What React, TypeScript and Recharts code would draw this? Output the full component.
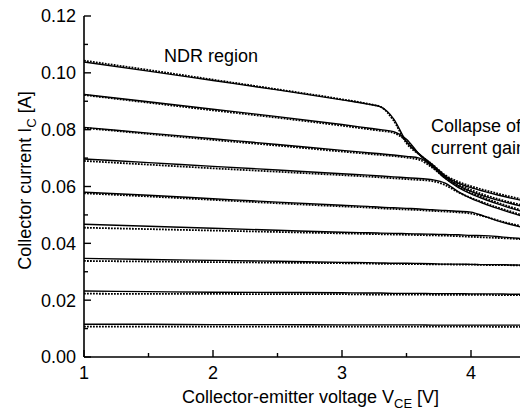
import React from 'react';
import { LineChart, Line, XAxis, YAxis } from 'recharts';

const FONT = '"Liberation Sans", Arial, Helvetica, sans-serif';

// Collector-emitter voltage grid [V]
const voltage = [1, 1.5, 2, 2.5, 3, 3.2, 3.3, 3.4, 3.5, 3.6, 3.7, 3.8, 3.9, 4.0, 4.1, 4.2, 4.3, 4.4, 4.5, 4.6];

// Measured (solid) collector current [A]
const meas1 = [0.1038, 0.1006, 0.0973, 0.094, 0.0905, 0.089, 0.088, 0.0838, 0.0757, 0.0714, 0.0676, 0.0636, 0.0612, 0.0596, 0.0583, 0.0571, 0.056, 0.0551, 0.0542, 0.0534];
const meas2 = [0.0924, 0.0898, 0.0872, 0.0846, 0.0818, 0.0806, 0.08, 0.0793, 0.0766, 0.0713, 0.0673, 0.0633, 0.0604, 0.0583, 0.0566, 0.0553, 0.0541, 0.053, 0.0521, 0.0513];
const meas3 = [0.0808, 0.0788, 0.0768, 0.0748, 0.0727, 0.0719, 0.0715, 0.0711, 0.0706, 0.07, 0.067, 0.0628, 0.0597, 0.0574, 0.0556, 0.054, 0.0525, 0.0512, 0.0501, 0.0492];
const meas4 = [0.0697, 0.0684, 0.0671, 0.0658, 0.0645, 0.064, 0.0637, 0.0634, 0.0631, 0.0628, 0.0624, 0.0612, 0.0582, 0.0558, 0.054, 0.0524, 0.0509, 0.0495, 0.0483, 0.0473];
const meas5 = [0.058, 0.0569, 0.0557, 0.0545, 0.0534, 0.053, 0.0527, 0.0525, 0.0523, 0.0521, 0.0518, 0.0516, 0.0513, 0.051, 0.0496, 0.048, 0.0467, 0.0456, 0.0447, 0.044];
const meas6 = [0.0467, 0.046, 0.0453, 0.0446, 0.0439, 0.0437, 0.0436, 0.0435, 0.0434, 0.0433, 0.0432, 0.0431, 0.043, 0.0428, 0.0427, 0.0424, 0.042, 0.0417, 0.0414, 0.0411];
const meas7 = [0.0347, 0.0343, 0.034, 0.0337, 0.0333, 0.0332, 0.0331, 0.033, 0.033, 0.0329, 0.0328, 0.0327, 0.0327, 0.0326, 0.0325, 0.0325, 0.0324, 0.0323, 0.0322, 0.0322];
const meas8 = [0.0232, 0.023, 0.0228, 0.0227, 0.0226, 0.0225, 0.0225, 0.0224, 0.0224, 0.0224, 0.0223, 0.0223, 0.0223, 0.0222, 0.0222, 0.0222, 0.0221, 0.0221, 0.0221, 0.022];
const meas9 = [0.0115, 0.0115, 0.0114, 0.0114, 0.0113, 0.0113, 0.0113, 0.0113, 0.0113, 0.0113, 0.0112, 0.0112, 0.0112, 0.0112, 0.0112, 0.0112, 0.0112, 0.0112, 0.0111, 0.0111];

// Simulated (dotted) collector current [A]
const sim1 = [0.1043, 0.101, 0.0976, 0.0942, 0.0907, 0.0891, 0.088, 0.0832, 0.0752, 0.0712, 0.0678, 0.064, 0.0617, 0.0601, 0.0588, 0.0576, 0.0565, 0.0555, 0.0546, 0.0538];
const sim2 = [0.0922, 0.0895, 0.0868, 0.0842, 0.0814, 0.0802, 0.0796, 0.0789, 0.076, 0.0712, 0.0676, 0.0637, 0.0609, 0.0588, 0.0571, 0.0557, 0.0545, 0.0534, 0.0525, 0.0517];
const sim3 = [0.0806, 0.0785, 0.0764, 0.0744, 0.0723, 0.0715, 0.0711, 0.0707, 0.0702, 0.0694, 0.0666, 0.063, 0.0601, 0.0578, 0.056, 0.0544, 0.0529, 0.0516, 0.0505, 0.0496];
const sim4 = [0.069, 0.0677, 0.0664, 0.0652, 0.064, 0.0635, 0.0632, 0.0629, 0.0626, 0.0623, 0.0619, 0.0605, 0.058, 0.056, 0.0543, 0.0527, 0.0513, 0.0499, 0.0487, 0.0477];
const sim5 = [0.0576, 0.0565, 0.0553, 0.0541, 0.053, 0.0526, 0.0523, 0.0521, 0.0519, 0.0517, 0.0514, 0.0512, 0.0509, 0.0505, 0.0495, 0.0482, 0.047, 0.046, 0.0451, 0.0444];
const sim6 = [0.0455, 0.045, 0.0445, 0.044, 0.0435, 0.0433, 0.0432, 0.0431, 0.043, 0.0429, 0.0428, 0.0427, 0.0425, 0.0423, 0.0421, 0.0419, 0.0417, 0.0414, 0.0412, 0.041];
const sim7 = [0.0338, 0.0336, 0.0334, 0.0332, 0.033, 0.0329, 0.0328, 0.0328, 0.0327, 0.0327, 0.0326, 0.0326, 0.0325, 0.0325, 0.0324, 0.0323, 0.0323, 0.0322, 0.0322, 0.0321];
const sim8 = [0.0223, 0.0222, 0.0222, 0.0221, 0.0221, 0.022, 0.022, 0.022, 0.022, 0.022, 0.0219, 0.0219, 0.0219, 0.0219, 0.0219, 0.0218, 0.0218, 0.0218, 0.0218, 0.0218];
const sim9 = [0.0107, 0.0107, 0.0107, 0.0107, 0.0107, 0.0107, 0.0107, 0.0107, 0.0107, 0.0107, 0.0107, 0.0107, 0.0107, 0.0107, 0.0107, 0.0106, 0.0106, 0.0106, 0.0106, 0.0106];

const xTicks = [1, 1.5, 2, 2.5, 3, 3.5, 4, 4.5, 5];
const xLabels = [1, 2, 3, 4];
const yTicks = [0, 0.01, 0.02, 0.03, 0.04, 0.05, 0.06, 0.07, 0.08, 0.09, 0.1, 0.11, 0.12];

const measured = [meas1, meas2, meas3, meas4, meas5, meas6, meas7, meas8, meas9];
const simulated = [sim1, sim2, sim3, sim4, sim5, sim6, sim7, sim8, sim9];

const data = voltage.map((v, i) => {
  const row: Record<string, number> = { v };
  measured.forEach((s, k) => { row['m' + k] = s[i]; });
  simulated.forEach((s, k) => { row['s' + k] = s[i]; });
  return row;
});

const isInt = (v: number) => Math.abs(v - Math.round(v)) < 1e-6;

function BottomTick(props: any) {
  const { x, y, payload } = props;
  const v = payload.value;
  const major = isInt(v);
  return (
    <g>
      <line x1={x} x2={x} y1={y} y2={y - (major ? 7 : 4)} stroke="#000" strokeWidth={1.4} />
      {xLabels.includes(v) ? (
        <text x={x} y={y + 22} textAnchor="middle" fontSize={18} fontFamily={FONT} fill="#000">{v}</text>
      ) : null}
    </g>
  );
}

function TopTick(props: any) {
  const { x, y, payload } = props;
  const major = isInt(payload.value);
  return <line x1={x} x2={x} y1={y} y2={y + (major ? 7 : 4)} stroke="#000" strokeWidth={1.4} />;
}

function LeftTick(props: any) {
  const { x, y, payload } = props;
  const v = payload.value;
  const major = Math.round(v * 100) % 2 === 0;
  return (
    <g>
      <line x1={x} x2={x + (major ? 7 : 4)} y1={y} y2={y} stroke="#000" strokeWidth={1.4} />
      {major ? (
        <text x={x - 8} y={y + 6.4} textAnchor="end" fontSize={18} fontFamily={FONT} fill="#000">{v.toFixed(2)}</text>
      ) : null}
    </g>
  );
}

export default function App() {
  return (
    <div style={{ position: 'relative', left: -8, top: -8, width: 528, height: 412, overflow: 'hidden', background: '#fff' }}>
      <LineChart width={608} height={412} data={data} margin={{ top: 16, right: 8, bottom: 0, left: 0 }}>
        <XAxis
          xAxisId="b"
          dataKey="v"
          type="number"
          domain={[1, 5]}
          ticks={xTicks}
          interval={0}
          height={55}
          tickSize={0}
          tickMargin={0}
          tickLine={false}
          tick={<BottomTick />}
          axisLine={{ stroke: '#000', strokeWidth: 1.6 }}
          allowDataOverflow
        />
        <XAxis
          xAxisId="t"
          dataKey="v"
          type="number"
          orientation="top"
          domain={[1, 5]}
          ticks={xTicks}
          interval={0}
          height={0}
          tickSize={0}
          tickMargin={0}
          tickLine={false}
          tick={<TopTick />}
          axisLine={{ stroke: '#000', strokeWidth: 1.6 }}
          allowDataOverflow
        />
        <YAxis
          type="number"
          domain={[0, 0.12]}
          ticks={yTicks}
          interval={0}
          width={84}
          tickSize={0}
          tickMargin={0}
          tickLine={false}
          tick={<LeftTick />}
          axisLine={{ stroke: '#000', strokeWidth: 1.6 }}
          allowDataOverflow
        />
        {simulated.map((_, k) => (
          <Line
            key={'s' + k}
            xAxisId="b"
            dataKey={'s' + k}
            type="monotone"
            stroke="#000"
            strokeWidth={1.8}
            strokeDasharray="1.8 1.2"
            dot={false}
            activeDot={false}
            isAnimationActive={false}
          />
        ))}
        {measured.map((_, k) => (
          <Line
            key={'m' + k}
            xAxisId="b"
            dataKey={'m' + k}
            type="monotone"
            stroke="#000"
            strokeWidth={1.4}
            dot={false}
            activeDot={false}
            isAnimationActive={false}
          />
        ))}
      </LineChart>
      <svg
        width={528}
        height={412}
        style={{ position: 'absolute', left: 0, top: 0, pointerEvents: 'none' }}
        fontFamily={FONT}
      >
        <text x={164} y={62} fontSize={18} fill="#000">NDR region</text>
        <text x={431} y={132} fontSize={18} fill="#000">Collapse of</text>
        <text x={431} y={154} fontSize={18} fill="#000">current gain</text>
        <text x={310.5} y={403} fontSize={18} fill="#000" textAnchor="middle">
          Collector-emitter voltage V
          <tspan dy={5} fontSize={13}>CE</tspan>
          <tspan dy={-5}> [V]</tspan>
        </text>
        <g transform="translate(31, 180.5) rotate(-90)">
          <text x={0} y={0} fontSize={18} fill="#000" textAnchor="middle">
            Collector current I
            <tspan dy={5} fontSize={13}>C</tspan>
            <tspan dy={-5}> [A]</tspan>
          </text>
        </g>
      </svg>
    </div>
  );
}
